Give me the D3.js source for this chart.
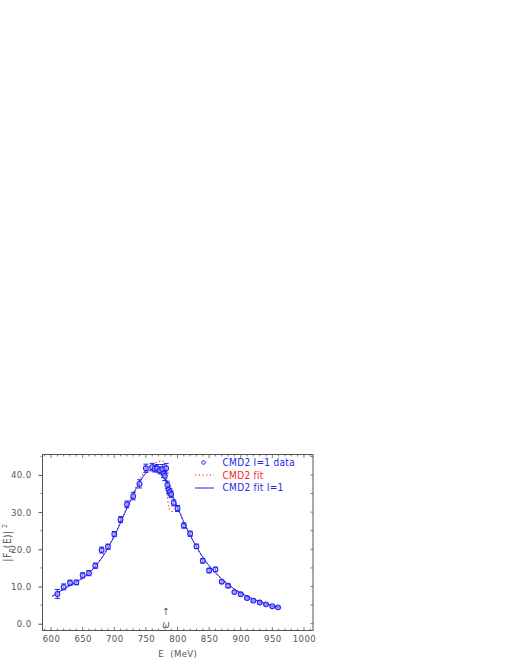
<!DOCTYPE html>
<html>
<head>
<meta charset="utf-8">
<script src="https://cdn.jsdelivr.net/npm/d3@7"></script>
<style>
  html, body { margin: 0; padding: 0; background: #fff; }
  svg text { font-family: "Liberation Sans Narrow", "DejaVu Sans Condensed", "Liberation Sans", sans-serif; font-stretch: condensed; }
</style>
</head>
<body>
<svg id="chart" width="510" height="660"></svg>
<script>
// ---- data ----
const energy = [610, 620, 630, 640, 650, 660, 670, 680, 690, 700, 710, 720, 730, 740, 750,
  760, 764, 768, 772, 776, 778, 780, 782, 784, 786, 788, 790, 794, 800, 810, 820, 830, 840,
  850, 860, 870, 880, 890, 900, 910, 920, 930, 940, 950, 959];
const formFactor = [8.0, 9.9, 11.0, 11.1, 13.0, 13.6, 15.6, 19.8, 20.7, 24.1, 28.0, 32.1, 34.3, 37.6, 41.8,
  42.1, 41.7, 41.8, 41.2, 41.6, 40.3, 39.7, 41.8, 37.3, 36.0, 35.4, 34.8, 32.5, 31.0, 26.4, 24.2, 20.8, 16.9,
  14.3, 14.6, 11.3, 10.2, 8.5, 7.9, 6.9, 6.2, 5.7, 5.2, 4.7, 4.4];
const formFactorErr = [1.2, 0.8, 0.7, 0.6, 0.7, 0.7, 0.7, 0.8, 0.7, 0.7, 0.8, 0.9, 1.0, 1.1, 1.1,
  1.0, 0.9, 1.0, 0.9, 1.2, 1.0, 1.2, 1.3, 1.0, 1.0, 1.0, 0.9, 0.8, 0.8, 0.7, 0.7, 0.6, 0.6,
  0.6, 0.6, 0.4, 0.5, 0.3, 0.3, 0.3, 0.2, 0.2, 0.2, 0.2, 0.2];

const fitI1Energy = [602, 620, 640, 660, 680, 700, 720, 740, 750, 760, 770, 780, 790, 800, 810, 820,
  830, 840, 850, 860, 870, 880, 890, 900, 910, 920, 930, 940, 950, 960];
const fitI1Values = [7.4, 9.3, 11.2, 13.6, 17.6, 23.5, 31.0, 38.0, 40.5, 41.5, 41.3, 39.2, 35.3, 31.3, 27.3, 23.8,
  20.7, 17.9, 15.6, 13.7, 12.0, 10.6, 9.3, 8.3, 7.4, 6.6, 6.0, 5.4, 4.9, 4.4];

const fitCMD2Energy = [602, 620, 640, 660, 680, 700, 720, 740, 750, 760, 770, 776, 780, 783, 786, 790, 795,
  800, 805, 810, 820, 830, 840, 850, 860, 870, 880, 890, 900, 910, 920, 930, 940, 950, 960];
const fitCMD2Values = [7.4, 9.3, 11.2, 13.6, 17.7, 23.7, 31.4, 38.6, 41.3, 42.8, 43.6, 43.8, 42.0, 36.5, 31.5, 30.3, 30.1,
  30.4, 29.4, 27.3, 23.7, 20.6, 17.8, 15.6, 13.7, 12.0, 10.6, 9.3, 8.3, 7.4, 6.6, 6.0, 5.4, 4.9, 4.4];

const xTickValues = [600, 650, 700, 750, 800, 850, 900, 950, 1000];
const yTickValues = [0, 10, 20, 30, 40];
const legendLabels = ["CMD2 I=1 data", "CMD2 fit", "CMD2 fit I=1"];

// ---- drawing ----
(function draw() {
const svg = d3.select("#chart");
const axisColor = "#555";
const blue = "#2424f0";
const red = "#ff2020";
const pLeft = 42.5, pRight = 313, pTop = 454.5, pBottom = 630.5;

const x = d3.scaleLinear().domain([586.5, 1014.3]).range([pLeft, pRight]);
const y = d3.scaleLinear().domain([-1.83, 45.5]).range([pBottom, pTop]);

// frame
svg.append("rect").attr("x", pLeft).attr("y", pTop).attr("width", pRight - pLeft).attr("height", pBottom - pTop)
  .attr("fill", "none").attr("stroke", axisColor).attr("stroke-width", 1);

const fontSize = "9.5px";
// bottom axis: labels + inward ticks
const xAxis = d3.axisBottom(x).tickValues(xTickValues).tickSize(0).tickPadding(5).tickFormat(d3.format("d"));
const gx = svg.append("g").attr("transform", `translate(0,${pBottom})`).call(xAxis);
gx.select(".domain").remove();
gx.selectAll("text").attr("fill", axisColor).style("font-size", fontSize).style("letter-spacing", "0.4px");

const minorX = d3.range(590, 1011, 10);
svg.append("g").selectAll("line").data(minorX).join("line")
  .attr("x1", d => x(d)).attr("x2", d => x(d))
  .attr("y1", pBottom).attr("y2", d => pBottom - (d % 50 === 0 ? 3.5 : 2))
  .attr("stroke", axisColor).attr("stroke-width", 0.8);
svg.append("g").selectAll("line").data(minorX).join("line")
  .attr("x1", d => x(d)).attr("x2", d => x(d))
  .attr("y1", pTop).attr("y2", d => pTop + (d % 50 === 0 ? 3.5 : 2))
  .attr("stroke", axisColor).attr("stroke-width", 0.8);

// left axis: outward ticks
const yAxis = d3.axisLeft(y).tickValues(yTickValues).tickSize(4).tickPadding(7).tickFormat(d3.format(".1f"));
const gy = svg.append("g").attr("transform", `translate(${pLeft},0)`).call(yAxis);
gy.select(".domain").remove();
gy.selectAll("line").attr("stroke", axisColor);
gy.selectAll("text").attr("fill", axisColor).style("font-size", fontSize).style("letter-spacing", "0.4px");
const minorY = d3.range(5, 46, 10);
svg.append("g").selectAll("line").data(minorY).join("line")
  .attr("x1", pLeft).attr("x2", pLeft - 2)
  .attr("y1", d => y(d)).attr("y2", d => y(d))
  .attr("stroke", axisColor).attr("stroke-width", 0.8);
// right axis: inward ticks
svg.append("g").selectAll("line").data(d3.range(0, 46, 5)).join("line")
  .attr("x1", pRight).attr("x2", pRight - 2.5)
  .attr("y1", d => y(d)).attr("y2", d => y(d))
  .attr("stroke", axisColor).attr("stroke-width", 0.8);

// axis titles
svg.append("text").attr("x", (pLeft + pRight) / 2).attr("y", 657).attr("text-anchor", "middle")
  .attr("fill", axisColor).style("font-size", fontSize).style("letter-spacing", "0.4px")
  .attr("xml:space", "preserve").text("E  (MeV)");
const yt = svg.append("text").attr("transform", `translate(11,${(pTop + pBottom) / 2}) rotate(-90)`)
  .attr("text-anchor", "middle").attr("fill", axisColor).style("font-size", "10px").style("letter-spacing", "0.5px");
yt.append("tspan").text("|F");
yt.append("tspan").attr("dy", 2).style("font-size", "7px").text("π");
yt.append("tspan").attr("dy", -2).text("(E)|");
yt.append("tspan").attr("dy", -4).style("font-size", "7px").text(" 2");

// omega marker
svg.append("text").attr("x", x(782)).attr("y", 615).attr("text-anchor", "middle")
  .attr("fill", axisColor).style("font-size", "10px").text("↑");
svg.append("text").attr("x", x(782)).attr("y", 628).attr("text-anchor", "middle")
  .attr("fill", axisColor).style("font-size", "10px").style("font-style", "italic").text("ω");

// fit curves
const line = d3.line().x(d => x(d[0])).y(d => y(d[1])).curve(d3.curveMonotoneX);
svg.append("path").datum(d3.zip(fitCMD2Energy, fitCMD2Values)).attr("d", line)
  .attr("fill", "none").attr("stroke", red).attr("stroke-width", 1.1).attr("stroke-dasharray", "1.3,2.4");
svg.append("path").datum(d3.zip(fitI1Energy, fitI1Values)).attr("d", line)
  .attr("fill", "none").attr("stroke", blue).attr("stroke-width", 1);

// data points with error bars
const pts = d3.zip(energy, formFactor, formFactorErr);
const g = svg.append("g").attr("stroke", blue).attr("fill", "none").attr("stroke-width", 1);
g.selectAll("line.eb").data(pts).join("line").attr("class", "eb")
  .attr("x1", d => x(d[0])).attr("x2", d => x(d[0]))
  .attr("y1", d => y(d[1] - d[2])).attr("y2", d => y(d[1] + d[2]));
g.selectAll("line.cap1").data(pts).join("line").attr("class", "cap1")
  .attr("x1", d => x(d[0]) - 2.5).attr("x2", d => x(d[0]) + 2.5)
  .attr("y1", d => y(d[1] + d[2])).attr("y2", d => y(d[1] + d[2]));
g.selectAll("line.cap2").data(pts).join("line").attr("class", "cap2")
  .attr("x1", d => x(d[0]) - 2.5).attr("x2", d => x(d[0]) + 2.5)
  .attr("y1", d => y(d[1] - d[2])).attr("y2", d => y(d[1] - d[2]));
g.selectAll("circle").data(pts).join("circle")
  .attr("cx", d => x(d[0])).attr("cy", d => y(d[1])).attr("r", 2.4)
  .attr("fill", "#b8b8ff").attr("fill-opacity", 0.6).attr("stroke-width", 1.1);

// legend
const lg = svg.append("g");
lg.append("circle").attr("cx", 203.5).attr("cy", 462.5).attr("r", 1.8)
  .attr("fill", "none").attr("stroke", blue).attr("stroke-width", 1);
lg.append("line").attr("x1", 195).attr("x2", 214).attr("y1", 475).attr("y2", 475)
  .attr("stroke", red).attr("stroke-width", 1.1).attr("stroke-dasharray", "1.3,2.4");
lg.append("line").attr("x1", 195).attr("x2", 214).attr("y1", 488).attr("y2", 488)
  .attr("stroke", blue).attr("stroke-width", 1);
const legendColors = [blue, red, blue];
lg.selectAll("text").data(legendLabels).join("text")
  .attr("x", 222.5).attr("y", (d, i) => 466 + i * 12.7)
  .attr("fill", (d, i) => legendColors[i]).style("font-size", "10px").style("letter-spacing", "0.3px")
  .attr("xml:space", "preserve").text(d => d);
})();
</script>
</body>
</html>
